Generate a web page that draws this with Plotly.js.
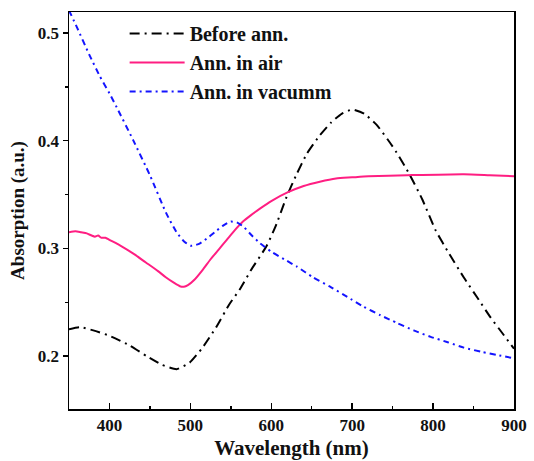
<!DOCTYPE html>
<html><head><meta charset="utf-8">
<script src="https://cdn.plot.ly/plotly-3.0.1.min.js"></script>
<style>html,body{margin:0;padding:0;background:#fff}#chart{width:534px;height:461px}</style>
</head><body><div id="chart"></div>
<script>
const seriesNames = ["Before ann.", "Ann. in air", "Ann. in vacumm"];

const beforeX = [350,363,380,400,425,446,465,483,499,515,532,548,561,575,594,605,619,632,644,660,674,687,700,715,730,745,755,770,787,803,820,838,855,871,885,900];
const beforeY = [0.225,0.227,0.224,0.219,0.210,0.200,0.192,0.188,0.194,0.208,0.227,0.248,0.262,0.280,0.302,0.320,0.348,0.370,0.388,0.405,0.417,0.425,0.429,0.425,0.415,0.400,0.389,0.370,0.345,0.317,0.295,0.273,0.254,0.236,0.222,0.207];

const airX = [350,358,365,372,378,382,386,390,395,400,415,430,445,460,470,480,487,492,497,505,515,525,535,545,555,565,575,586,600,620,640,660,680,700,720,768,838,870,900];
const airY = [0.315,0.316,0.315,0.314,0.312,0.311,0.312,0.310,0.310,0.308,0.302,0.295,0.287,0.279,0.273,0.268,0.265,0.2645,0.266,0.271,0.280,0.290,0.299,0.308,0.317,0.325,0.331,0.337,0.344,0.352,0.358,0.362,0.365,0.366,0.367,0.368,0.369,0.368,0.367];

const vacX = [350,360,375,388,400,409,429,450,470,483,493,501,510,520,530,540,550,558,566,576,586,600,616,632,652,674,694,714,735,755,776,797,818,838,860,880,900];
const vacY = [0.521,0.505,0.480,0.460,0.444,0.431,0.401,0.368,0.333,0.315,0.306,0.3025,0.304,0.309,0.315,0.321,0.325,0.324,0.320,0.312,0.305,0.297,0.290,0.283,0.273,0.264,0.255,0.246,0.238,0.231,0.224,0.218,0.213,0.208,0.204,0.201,0.198];

const xTicks = [400,500,600,700,800,900];
const yTicks = [0.2,0.3,0.4,0.5];

const serif = "Liberation Serif, Times New Roman, serif";

const traces = [
  {x: beforeX, y: beforeY, name: seriesNames[0], mode: "lines", line: {color: "#000000", width: 2, dash: "10px,5px,2px,5px", shape: "spline", smoothing: 0.5}},
  {x: airX, y: airY, name: seriesNames[1], mode: "lines", line: {color: "#ff1e82", width: 2, shape: "spline", smoothing: 0.6}},
  {x: vacX, y: vacY, name: seriesNames[2], mode: "lines", line: {color: "#1414ff", width: 2, dash: "6px,4px,2px,4px", shape: "spline", smoothing: 0.5}}
];

const layout = {
  width: 534, height: 461,
  margin: {l: 69, r: 20, t: 12, b: 52},
  paper_bgcolor: "#ffffff", plot_bgcolor: "#ffffff",
  showlegend: true,
  legend: {x: 0.125, y: 0.995, xanchor: "left", yanchor: "top", bgcolor: "rgba(0,0,0,0)",
           font: {family: serif, size: 20, color: "#111", weight: "bold"}, itemwidth: 55, tracegroupgap: 0},
  xaxis: {
    range: [350, 900], tickvals: xTicks, ticktext: xTicks.map(String),
    ticks: "inside", ticklen: 6, tickwidth: 1.5, tickcolor: "#000",
    minor: {tickvals: [450,550,650,750,850], ticks: "inside", ticklen: 3, tickwidth: 1.5, tickcolor: "#000"},
    showline: true, linecolor: "#000", linewidth: 1.5, mirror: true,
    showgrid: false, zeroline: false,
    tickfont: {family: serif, size: 17, color: "#111", weight: "bold"},
    title: {text: "Wavelength (nm)", font: {family: serif, size: 21, color: "#111", weight: "bold"}, standoff: 6}
  },
  yaxis: {
    range: [0.151, 0.5195], tickvals: yTicks, ticktext: yTicks.map(v => v.toFixed(1)),
    ticks: "outside", ticklen: 5, tickwidth: 1.5, tickcolor: "#000",
    minor: {tickvals: [0.25,0.35,0.45], ticks: "outside", ticklen: 3, tickwidth: 1.5, tickcolor: "#000"},
    showline: true, linecolor: "#000", linewidth: 1.5, mirror: true,
    showgrid: false, zeroline: false,
    tickfont: {family: serif, size: 17, color: "#111", weight: "bold"},
    title: {text: "Absorption (a.u.)", font: {family: serif, size: 19, color: "#111", weight: "bold"}, standoff: 8}
  }
};

Plotly.newPlot("chart", traces, layout, {staticPlot: true, displayModeBar: false});
</script></body></html>
